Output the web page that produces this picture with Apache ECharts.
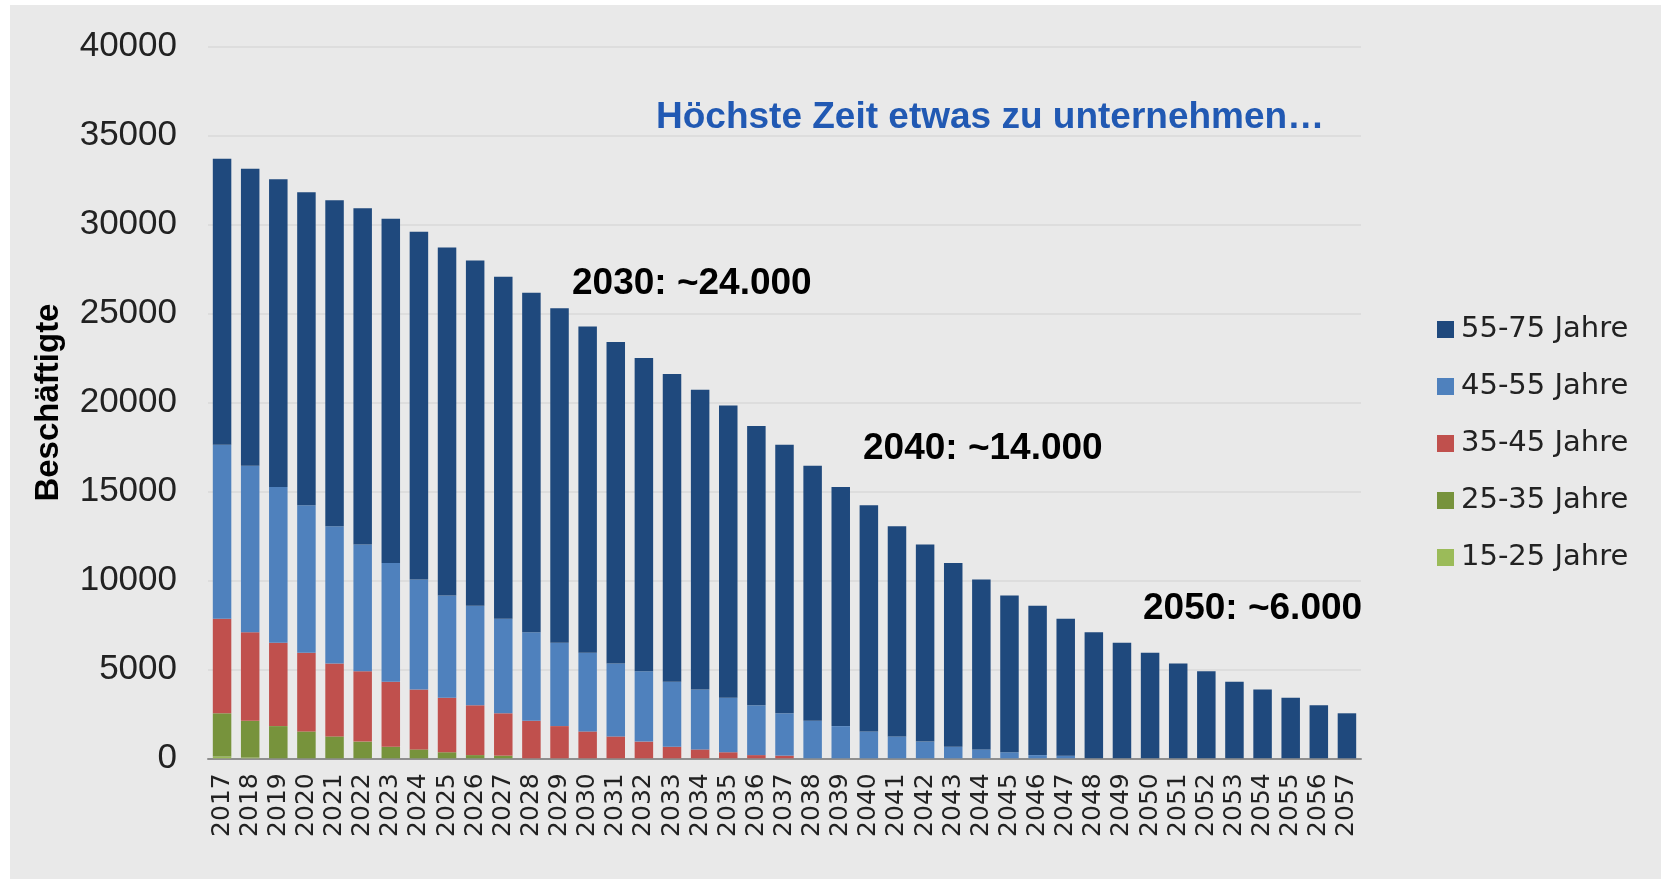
<!DOCTYPE html>
<html>
<head>
<meta charset="utf-8">
<script src="https://cdn.jsdelivr.net/npm/echarts@6/dist/echarts.min.js"></script>
<style>
  html, body { margin: 0; padding: 0; background: #fff; }
  #c { width: 1661px; height: 879px;
       background: linear-gradient(#e9e9e9, #e9e9e9) 10px 5px / 1651px 874px no-repeat, #fff; }
</style>
</head>
<body>
<div id="c"></div>
<script>
// Categories (years)
const years = ['2017','2018','2019','2020','2021','2022','2023','2024','2025','2026','2027','2028','2029','2030','2031','2032','2033','2034','2035','2036','2037','2038','2039','2040','2041','2042','2043','2044','2045','2046','2047','2048','2049','2050','2051','2052','2053','2054','2055','2056','2057'];

// Series values (employees per age group)
const age55_75 = [16070,16710,17300,17590,18330,18900,19350,19550,19560,19420,19230,19080,18800,18350,18070,17610,17310,16850,16430,15700,15100,14330,13440,12720,11820,11080,10330,9550,8810,8390,7690,7090,6500,5930,5330,4890,4300,3870,3410,2980,2530];
const age45_55 = [9790,9350,8750,8300,7720,7130,6680,6180,5740,5590,5310,4980,4690,4420,4100,3950,3650,3370,3070,2800,2380,2110,1810,1510,1230,940,650,500,340,180,150,0,0,0,0,0,0,0,0,0,0];
const age35_45 = [5310,4980,4690,4420,4100,3950,3650,3370,3070,2800,2380,2110,1810,1510,1230,940,650,500,340,180,150,0,0,0,0,0,0,0,0,0,0,0,0,0,0,0,0,0,0,0,0];
const age25_35 = [2430,2070,1810,1510,1230,940,650,500,340,180,150,0,0,0,0,0,0,0,0,0,0,0,0,0,0,0,0,0,0,0,0,0,0,0,0,0,0,0,0,0,0];
const age15_25 = [100,40,0,0,0,0,0,0,0,0,0,0,0,0,0,0,0,0,0,0,0,0,0,0,0,0,0,0,0,0,0,0,0,0,0,0,0,0,0,0,0];

// Tick labels / texts
const yTicks = { min: 0, max: 40000, interval: 5000 };
const yName = 'Beschäftigte';
const headline = 'Höchste Zeit etwas zu unternehmen…';
const notes = ['2030: ~24.000', '2040: ~14.000', '2050: ~6.000'];

const names = ['15-25 Jahre','25-35 Jahre','35-45 Jahre','45-55 Jahre','55-75 Jahre'];
const colors = ['#9bbb59','#77933c','#c0504d','#4f81bd','#1f497d'];
const seriesData = [age15_25, age25_35, age35_45, age45_55, age55_75];

const chart = echarts.init(document.getElementById('c'), null, { renderer: 'canvas' });

const noteStyle = { fill: '#000', fontSize: 37, fontWeight: 'bold', fontFamily: 'Liberation Sans, Arial, sans-serif', textVerticalAlign: 'middle' };

chart.setOption({
  animation: false,
  grid: { left: 208, right: 300, top: 46.8, bottom: 120.7, containLabel: false },
  legend: {
    orient: 'vertical',
    left: 1432,
    top: 309.5,
    itemWidth: 17,
    itemHeight: 17,
    itemGap: 27,
    icon: 'rect',
    data: names.slice().reverse(),
    textStyle: { fontSize: 29, lineHeight: 30, color: '#222', fontFamily: 'DejaVu Sans, sans-serif', padding: [0,0,0,2] }
  },
  xAxis: {
    type: 'category',
    data: years,
    axisTick: { show: false },
    axisLine: { lineStyle: { color: '#8f8f8f', width: 2 } },
    axisLabel: { rotate: 90, interval: 0, fontSize: 25, margin: 15, color: '#222', fontFamily: 'DejaVu Sans, sans-serif' }
  },
  yAxis: {
    type: 'value',
    min: yTicks.min, max: yTicks.max, interval: yTicks.interval,
    name: yName,
    nameLocation: 'middle',
    nameRotate: 90,
    nameGap: 143,
    nameTextStyle: { fontSize: 33, fontWeight: 'bold', color: '#000', fontFamily: 'Liberation Sans, Arial, sans-serif' },
    axisLine: { show: false },
    axisTick: { show: false },
    axisLabel: { fontSize: 35, margin: 31, color: '#222', fontFamily: 'Liberation Sans, Arial, sans-serif', formatter: v => String(v) },
    splitLine: { lineStyle: { color: '#d8d8d8', width: 1.5 } }
  },
  series: seriesData.map((d, i) => ({
    name: names[i],
    type: 'bar',
    stack: 'total',
    barWidth: 18.5,
    data: d,
    itemStyle: { color: colors[i] }
  })),
  graphic: [
    { type: 'text', left: 656, top: 99, style: { text: headline, fill: '#2159b3', fontSize: 37, fontWeight: 'bold', fontFamily: 'Liberation Sans, Arial, sans-serif' } },
    { type: 'text', x: 572, y: 284, style: Object.assign({ text: notes[0] }, noteStyle) },
    { type: 'text', x: 863, y: 449, style: Object.assign({ text: notes[1] }, noteStyle) },
    { type: 'text', x: 1143, y: 609, style: Object.assign({ text: notes[2] }, noteStyle) }
  ]
});
</script>
</body>
</html>
